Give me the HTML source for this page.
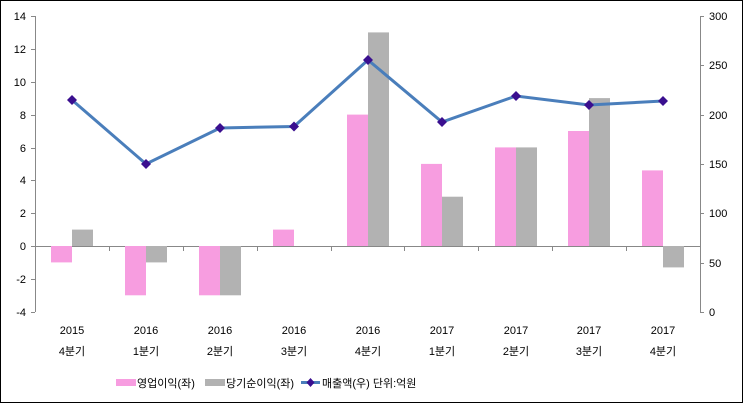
<!DOCTYPE html>
<html><head><meta charset="utf-8"><style>
html,body{margin:0;padding:0;background:#fff}
svg{display:block;font-family:"Liberation Sans","Noto Sans CJK KR",sans-serif}
</style></head><body>
<svg width="743" height="403" viewBox="0 0 743 403">
<rect x="0.5" y="0.5" width="742" height="402" fill="#fff" stroke="#000"/>
<g stroke="#888" stroke-width="1" fill="none">
<line x1="35.5" y1="16" x2="35.5" y2="312"/>
<line x1="700.5" y1="16" x2="700.5" y2="312"/>
<line x1="35" y1="246.5" x2="700" y2="246.5"/>
<path d="M31 16.5h4M31 49.5h4M31 82.5h4M31 115.5h4M31 148.5h4M31 180.5h4M31 213.5h4M31 246.5h4M31 279.5h4M31 312.5h4"/>
<path d="M700 16.5h4M700 65.5h4M700 115.5h4M700 164.5h4M700 213.5h4M700 263.5h4M700 312.5h4"/>
<path d="M109.5 246v5M183.5 246v5M257.5 246v5M331.5 246v5M404.5 246v5M478.5 246v5M552.5 246v5M626.5 246v5"/>
</g>
<g fill="#f79de0">
<rect x="51" y="246" width="21" height="16.4"/>
<rect x="125" y="246" width="21" height="49.3"/>
<rect x="199" y="246" width="21" height="49.3"/>
<rect x="273" y="229.6" width="21" height="16.4"/>
<rect x="347" y="114.6" width="21" height="131.4"/>
<rect x="421" y="163.9" width="21" height="82.1"/>
<rect x="495" y="147.4" width="21" height="98.6"/>
<rect x="568" y="131" width="21" height="115"/>
<rect x="642" y="170.4" width="21" height="75.6"/>
</g>
<g fill="#b2b2b2">
<rect x="72" y="229.6" width="21" height="16.4"/>
<rect x="146" y="246" width="21" height="16.4"/>
<rect x="220" y="246" width="21" height="49.3"/>
<rect x="368" y="32.4" width="21" height="213.6"/>
<rect x="442" y="196.7" width="21" height="49.3"/>
<rect x="516" y="147.4" width="21" height="98.6"/>
<rect x="589" y="98.1" width="21" height="147.9"/>
<rect x="663" y="246" width="21" height="21.4"/>
</g>
<polyline points="72,100 146,164 220,128 294,126.5 368,60 442,122 516,96 589,105 663,101" fill="none" stroke="#4a7ebb" stroke-width="3"/>
<g fill="#3a0f8f">
<path d="M72 95l5 5-5 5-5-5z"/><path d="M146 159l5 5-5 5-5-5z"/><path d="M220 123l5 5-5 5-5-5z"/>
<path d="M294 121.5l5 5-5 5-5-5z"/><path d="M368 55l5 5-5 5-5-5z"/><path d="M442 117l5 5-5 5-5-5z"/>
<path d="M516 91l5 5-5 5-5-5z"/><path d="M589 100l5 5-5 5-5-5z"/><path d="M663 96l5 5-5 5-5-5z"/>
</g>
<g font-size="11" fill="#000" text-anchor="end">
<text x="26" y="20">14</text><text x="26" y="53">12</text><text x="26" y="86">10</text>
<text x="26" y="119">8</text><text x="26" y="152">6</text><text x="26" y="184">4</text>
<text x="26" y="217">2</text><text x="26" y="250">0</text><text x="26" y="283">-2</text><text x="26" y="316">-4</text>
</g>
<g font-size="11" fill="#000" text-anchor="start">
<text x="709" y="20">300</text><text x="709" y="69">250</text><text x="709" y="119">200</text>
<text x="709" y="168">150</text><text x="709" y="217">100</text><text x="709" y="267">50</text><text x="709" y="316">0</text>
</g>
<g font-size="11" fill="#000" text-anchor="middle">
<text x="72" y="334">2015</text><text x="146" y="334">2016</text><text x="220" y="334">2016</text>
<text x="294" y="334">2016</text><text x="368" y="334">2016</text><text x="442" y="334">2017</text>
<text x="516" y="334">2017</text><text x="589" y="334">2017</text><text x="663" y="334">2017</text>
<text x="72" y="355">4분기</text><text x="146" y="355">1분기</text><text x="220" y="355">2분기</text>
<text x="294" y="355">3분기</text><text x="368" y="355">4분기</text><text x="442" y="355">1분기</text>
<text x="516" y="355">2분기</text><text x="589" y="355">3분기</text><text x="663" y="355">4분기</text>
</g>
<rect x="116" y="379" width="20" height="7" fill="#f79de0"/>
<text x="137" y="387" font-size="11">영업이익(좌)</text>
<rect x="205" y="379" width="20" height="7" fill="#b2b2b2"/>
<text x="226" y="387" font-size="11">당기순이익(좌)</text>
<line x1="301" y1="382.5" x2="320" y2="382.5" stroke="#4a7ebb" stroke-width="3"/>
<path d="M310.5 378l4 4.5-4 4.5-4-4.5z" fill="#3a0f8f"/>
<text x="322" y="387" font-size="11">매출액(우)  단위:억원</text>
</svg>
</body></html>
